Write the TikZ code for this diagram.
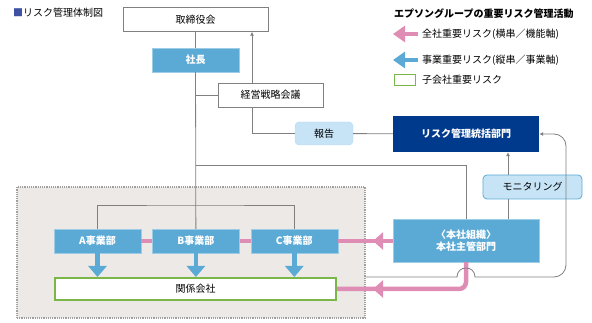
\documentclass[tikz,border=0pt]{standalone}
\usepackage{fontspec}
\setmainfont{Noto Sans CJK JP}
\usetikzlibrary{positioning,arrows.meta,calc}
\definecolor{unitblue}{HTML}{5BAAD6}
\definecolor{navy}{HTML}{003A8C}
\definecolor{paleblue}{HTML}{C7E4F6}
\definecolor{rosepink}{HTML}{E08DB5}
\definecolor{leafgreen}{HTML}{7AB648}
\definecolor{zonegray}{HTML}{ECE9E6}
\definecolor{linegray}{HTML}{808080}
\definecolor{titleblue}{HTML}{3F51A5}

\begin{document}
\begin{tikzpicture}[
  x=1pt, y=-1pt,
  every node/.style={font=\fontsize{10}{12}\selectfont, inner sep=0pt},
  boxw/.style={draw=linegray, fill=white, minimum height=24pt, align=center},
  boxunit/.style={draw=unitblue!60!white, fill=unitblue, text=white, minimum width=87pt,
                  minimum height=24pt, align=center, font=\fontsize{10}{12}\selectfont\bfseries},
  boxsoft/.style={fill=paleblue, rounded corners=4pt, minimum height=24pt, align=center},
  wire/.style={draw=linegray, line width=0.8pt},
  arr/.style={wire, -{Latex[length=4pt,width=4pt]}},
  pinkline/.style={draw=rosepink, line width=4.5pt},
  pinkhead/.style={pinkline, -{Triangle[length=10pt,width=17pt]}},
  bluehead/.style={draw=unitblue, line width=4.5pt, -{Triangle[length=11pt,width=18pt]}}
]
\useasboundingbox (0,0) rectangle (592,323);

% group zone
\node[fill=zonegray, draw=gray!75, densely dotted, line width=1.2pt,
      minimum width=348pt, minimum height=131pt] (group) at (191,252.5) {};

% title and legend
\node[anchor=west] (title) at (13,13) {\textcolor{titleblue}{■}リスク管理体制図};
\node[anchor=west, font=\fontsize{10}{12}\selectfont\bfseries] (legtitle) at (394,14) {エプソングループの重要リスク管理活動};
\node[anchor=west] (legpink) at (422,34) {全社重要リスク(横串／機能軸)};
\node[anchor=west] (legblue) at (422,60) {事業重要リスク(縦串／事業軸)};
\node[anchor=west] (leggreen) at (422,80) {子会社重要リスク};
\node[draw=leafgreen, line width=1.5pt, minimum width=21pt, minimum height=11pt,
      left=6pt of leggreen] (legbox) {};
\draw[pinkline, -{Triangle[length=12pt,width=16pt]}] ([xshift=-4pt]legpink.west) -- ++(-25,0);
\draw[bluehead, -{Triangle[length=12pt,width=16pt]}] ([xshift=-4pt]legblue.west) -- ++(-25,0);

% top: management
\node[boxw, minimum width=145pt] (board) at (195.5,19.5) {取締役会};
\node[boxunit] (president) at (195.5,60) {社長};
\node[boxw, minimum width=105pt] (strategy) at (270.5,95) {経営戦略会議};
\node[boxsoft, draw=paleblue!80!unitblue, minimum width=58pt, minimum height=23pt] (report) at (324,133.5) {報告};
\node[fill=navy, text=white, minimum width=146pt, minimum height=36pt,
      font=\fontsize{10}{12}\selectfont\bfseries] (riskdept) at (466,134) {リスク管理統括部門};
\node[boxsoft, draw=unitblue, line width=0.8pt, minimum width=99pt] (monitor) at (532.5,187) {モニタリング};
\node[boxunit, minimum width=146pt, minimum height=43pt] (hq) at (466,240.5) {〈本社組織〉\\本社主管部門};

% bottom: business units
\node[boxunit] (unitA) at (97.5,241) {A事業部};
\node[boxunit, right=11pt of unitA] (unitB) {B事業部};
\node[boxunit, right=11pt of unitB] (unitC) {C事業部};
\node[draw=leafgreen, line width=2pt, fill=white, minimum width=281pt, minimum height=22pt] (affil) at (195.5,289) {関係会社};

% reporting lines
\coordinate (split) at (195.5,205);
\coordinate (tap) at (195.5,165);
\coordinate (sx) at (252,0);
\coordinate (mx) at (508,0);
\coordinate (turn) at (566,0);
\draw[wire] (board) -- (president);
\draw[wire] (president) -- (unitB);
\draw[wire] (unitA.north) |- (split) -| (unitC.north);
\draw[wire] (strategy.west) -- (strategy.west -| president.south);
\draw[arr] (strategy.north -| sx) -- (board.south -| sx);
\draw[wire] (strategy.south -| sx) |- (report.west);
\draw[wire] (report) -- (riskdept);
\draw[wire] (tap) -| (hq.north);
\draw[wire] (hq.north -| mx) -- (monitor.south -| mx);
\draw[arr] (monitor.north -| mx) -- (riskdept.south -| mx);

% pink: company-wide risk
\draw[pinkline] (unitA) -- (unitB);
\draw[pinkline] (unitB) -- (unitC);
\draw[pinkline] (hq.west |- unitC.east) -- (unitC.east);
\draw[pinkhead] (hq.west |- unitC.east) -- ([xshift=35pt]unitC.east);
\draw[pinkline, rounded corners=7pt] (hq.south) |- (affil.east);
\draw[pinkhead] ([xshift=60pt]affil.east) -- ([xshift=36pt]affil.east);

% back to risk dept, hopping the pink line
\coordinate (hopl) at ($(affil.north -| hq.south)+(-9,0)$);
\coordinate (hopr) at ($(affil.north -| hq.south)+(9,0)$);
\draw[arr] (affil.north -| group.east) -- (hopl) .. controls +(0,-12) and +(0,-12) .. (hopr)
  [rounded corners=12pt] -- (hopr -| turn) -- (turn |- riskdept.east) -- (riskdept.east);

% blue: business risk
\foreach \u in {unitA,unitB,unitC}
  \draw[bluehead] (\u) -- (\u |- affil.north);
\end{tikzpicture}
\end{document}
